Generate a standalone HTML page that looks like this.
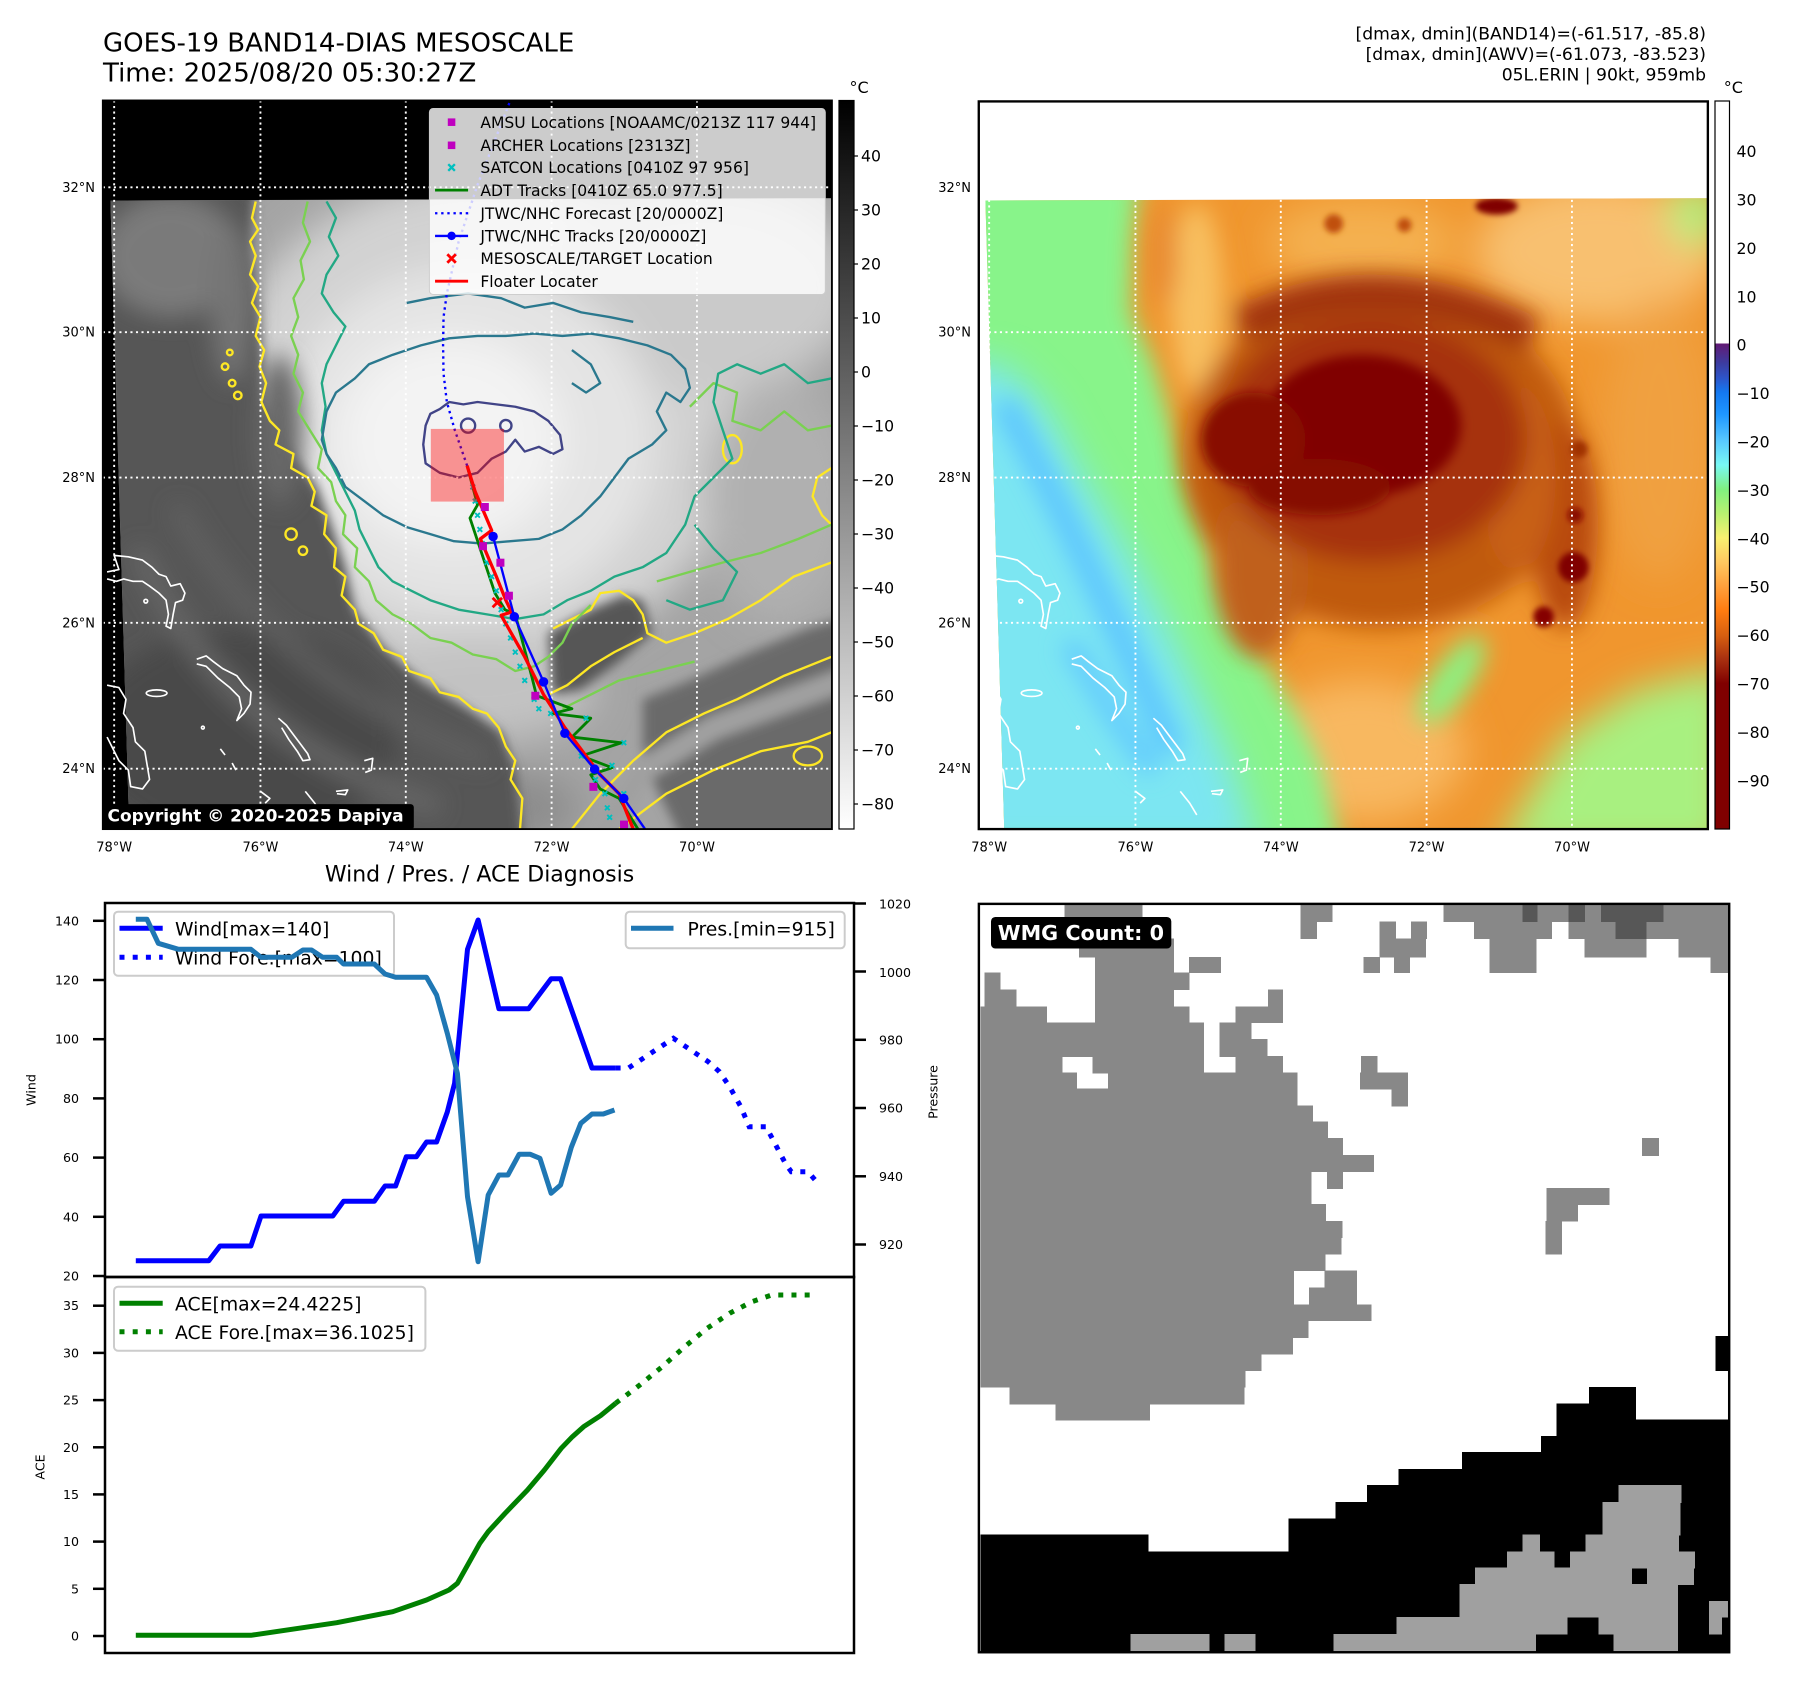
<!DOCTYPE html>
<html><head><meta charset="utf-8">
<style>
html,body{margin:0;padding:0;background:#fff;}
body{width:1797px;height:1690px;overflow:hidden;}
svg{display:block;font-family:"DejaVu Sans","Liberation Sans",sans-serif;}
</style></head><body>
<svg width="1797" height="1690" viewBox="0 0 1797 1690" xmlns="http://www.w3.org/2000/svg">
<defs>
 <clipPath id="dc" clipPathUnits="userSpaceOnUse"><polygon points="22,213 1551,208 1551,1545 62,1545"/></clipPath>
 <filter id="b6" x="-30%" y="-30%" width="160%" height="160%"><feGaussianBlur stdDeviation="6"/></filter>
 <filter id="b12" x="-30%" y="-30%" width="160%" height="160%"><feGaussianBlur stdDeviation="12"/></filter>
 <filter id="b25" x="-40%" y="-40%" width="180%" height="180%"><feGaussianBlur stdDeviation="25"/></filter>
 <filter id="b40" x="-50%" y="-50%" width="200%" height="200%"><feGaussianBlur stdDeviation="40"/></filter>
 <linearGradient id="gcb" x1="0" y1="0" x2="0" y2="1">
  <stop offset="0" stop-color="#000"/><stop offset="1" stop-color="#fff"/>
 </linearGradient>
 <linearGradient id="ccb" x1="0" y1="0" x2="0" y2="1">
  <stop offset="0" stop-color="#fff"/><stop offset="0.3333" stop-color="#fff"/>
  <stop offset="0.3334" stop-color="#621a74"/><stop offset="0.36" stop-color="#3c3ca0"/>
  <stop offset="0.38" stop-color="#2e54c8"/><stop offset="0.40" stop-color="#1478f0"/>
  <stop offset="0.43" stop-color="#1e96ff"/><stop offset="0.4667" stop-color="#58c8ff"/>
  <stop offset="0.50" stop-color="#78f8f4"/><stop offset="0.5333" stop-color="#80f080"/>
  <stop offset="0.5667" stop-color="#b8f070"/><stop offset="0.60" stop-color="#f8f070"/>
  <stop offset="0.6333" stop-color="#ffc860"/><stop offset="0.6667" stop-color="#ffa03c"/>
  <stop offset="0.70" stop-color="#ff7c10"/><stop offset="0.7333" stop-color="#d86010"/>
  <stop offset="0.7667" stop-color="#a83010"/><stop offset="0.80" stop-color="#800000"/>
  <stop offset="1" stop-color="#800000"/>
 </linearGradient>
 <g id="grid" stroke="#fff" stroke-width="4" stroke-dasharray="4.4 7.3" fill="none">
  <line x1="30" y1="1" x2="30" y2="1545"/><line x1="340" y1="1" x2="340" y2="1545"/>
  <line x1="648" y1="1" x2="648" y2="1545"/><line x1="957" y1="1" x2="957" y2="1545"/>
  <line x1="1265" y1="1" x2="1265" y2="1545"/>
  <line x1="6" y1="185" x2="1551" y2="185"/><line x1="6" y1="492" x2="1551" y2="492"/>
  <line x1="6" y1="800" x2="1551" y2="800"/><line x1="6" y1="1108" x2="1551" y2="1108"/>
  <line x1="6" y1="1417" x2="1551" y2="1417"/>
 </g>
 <g id="coast" stroke="#fff" stroke-width="3.5" fill="none" stroke-linejoin="round">
  <polyline points="15,1000 40,995 30,965 60,968 90,975 110,990 125,1005 140,1010 150,1030 170,1025 180,1045 175,1060 160,1065 155,1090 150,1120 140,1115 145,1090 140,1060 125,1045 105,1030 90,1020 70,1020 50,1015 35,1020 15,1015"/>
  <polyline points="15,1240 40,1245 55,1270 50,1300 70,1330 75,1360 95,1380 100,1410 105,1440 90,1460 65,1455 60,1420 40,1400 25,1370 15,1350"/>
  <polyline points="205,1185 225,1178 240,1190 260,1205 290,1220 305,1240 320,1255 318,1280 305,1300 290,1315 300,1290 295,1265 275,1245 250,1225 225,1200 205,1195"/>
  <ellipse cx="120" cy="1257" rx="22" ry="7"/>
  <polyline points="378,1310 395,1325 410,1345 425,1365 440,1385 445,1398 430,1400 418,1380 400,1355 385,1330"/>
  <circle cx="97" cy="1062" r="4"/><circle cx="218" cy="1330" r="3"/>
  <polyline points="255,1375 265,1388"/><polyline points="280,1405 288,1420"/>
  <polyline points="340,1465 360,1480 350,1490"/><polyline points="435,1465 455,1490 470,1515"/>
  <polyline points="500,1465 525,1462 520,1472 502,1470"/><polyline points="560,1400 578,1395 575,1420 562,1425"/>
 </g>
</defs>

<!-- Titles -->
<text x="103" y="51.5" font-size="26">GOES-19 BAND14-DIAS MESOSCALE</text>
<text x="103" y="81.5" font-size="26">Time: 2025/08/20 05:30:27Z</text>
<g font-size="17.2" text-anchor="end">
 <text x="1706" y="39.5">[dmax, dmin](BAND14)=(-61.517, -85.8)</text>
 <text x="1706" y="60">[dmax, dmin](AWV)=(-61.073, -83.523)</text>
 <text x="1706" y="80.5">05L.ERIN | 90kt, 959mb</text>
</g>
<text x="849.5" y="93" font-size="16">°C</text>
<text x="1723.7" y="93" font-size="16">°C</text>

<!-- ================= LEFT MAP ================= -->
<g transform="translate(100,100) scale(0.4719)">
 <rect x="6" y="1" width="1545" height="1544" fill="#000"/>
 <g clip-path="url(#dc)">
  <rect x="0" y="150" width="1600" height="1450" fill="#a4a4a4"/>
  <g filter="url(#b40)">
   <ellipse cx="800" cy="680" rx="560" ry="520" fill="#d2d2d2"/>
   <ellipse cx="1280" cy="400" rx="330" ry="220" fill="#cacaca"/>
   <ellipse cx="1440" cy="850" rx="160" ry="260" fill="#b0b0b0"/>
   <ellipse cx="780" cy="720" rx="400" ry="370" fill="#e4e4e4"/>
   <ellipse cx="740" cy="720" rx="240" ry="220" fill="#f3f3f3"/>
   <ellipse cx="800" cy="1250" rx="250" ry="110" fill="#c2c2c2"/>
   <ellipse cx="820" cy="1500" rx="200" ry="80" fill="#8c8c8c"/>
  </g>
  <g filter="url(#b12)">
   <polygon points="-100,150 330,150 318,320 335,440 345,560 350,640 400,740 460,820 490,900 520,990 540,1080 600,1160 680,1230 780,1290 850,1340 880,1420 900,1600 -100,1600" fill="#575757"/>
  </g>
  <g filter="url(#b25)">
   <ellipse cx="150" cy="330" rx="150" ry="130" fill="#7a7a7a"/>
   <ellipse cx="280" cy="430" rx="45" ry="170" fill="#747474"/>
   <ellipse cx="380" cy="700" rx="50" ry="160" fill="#686868"/>
   <ellipse cx="300" cy="1350" rx="330" ry="230" fill="#484848"/>
   <path d="M80,950 Q250,1350 720,1500" stroke="#686868" stroke-width="40" fill="none"/>
   <path d="M160,860 Q360,1220 820,1400" stroke="#646464" stroke-width="30" fill="none"/>
  </g>
  <g filter="url(#b12)">
   <polygon points="950,1130 1040,1080 1110,1050 1150,1060 1170,1130 1100,1190 1020,1250 960,1260" fill="#565656"/>
   <polygon points="1150,1270 1250,1230 1380,1170 1500,1120 1600,1090 1600,1600 1250,1600 1200,1500 1150,1400" fill="#6a6a6a"/>
   <path d="M1030,1600 L1150,1420 L1300,1330 L1600,1220" stroke="#a0a0a0" stroke-width="50" fill="none"/>
  </g>
  <!-- contours -->
  <g fill="none" stroke-width="5" stroke-linejoin="round">
   <polyline stroke="#fde725" points="330,215 322,250 335,275 318,300 330,330 318,370 335,395 322,430 340,460 330,500 348,530 338,565 352,600 342,640 360,680 380,700 372,730 410,750 405,780 440,800 455,830 448,860 480,880 475,920 500,950 496,990 520,1010 512,1050 540,1080 548,1110 580,1130 600,1165 640,1180 655,1210 700,1225 720,1255 760,1265 790,1290 820,1300 845,1330 860,1370 880,1400 870,1440 895,1480 890,1545"/>
   <polyline stroke="#fde725" points="960,1120 1000,1100 1040,1080 1060,1045 1100,1040 1130,1060 1150,1090 1160,1130 1200,1150 1260,1130 1330,1100 1400,1060 1470,1010 1550,980"/>
   <polyline stroke="#fde725" points="950,1260 990,1240 1040,1200 1090,1170 1150,1140"/>
   <polyline stroke="#fde725" points="1000,1545 1060,1470 1130,1400 1200,1340 1280,1300 1350,1270 1450,1220 1550,1180"/>
   <polyline stroke="#fde725" points="1100,1545 1200,1470 1300,1420 1400,1380 1500,1360 1550,1340"/>
   <polyline stroke="#fde725" points="1550,780 1520,800 1510,840 1530,880 1550,900"/>
   <ellipse stroke="#fde725" cx="1340" cy="740" rx="20" ry="30"/>
   <ellipse stroke="#fde725" cx="1500" cy="1390" rx="30" ry="20"/>
   <circle stroke="#fde725" cx="265" cy="565" r="7"/><circle stroke="#fde725" cx="280" cy="600" r="7"/>
   <circle stroke="#fde725" cx="292" cy="626" r="8"/><circle stroke="#fde725" cx="275" cy="535" r="6"/>
   <circle stroke="#fde725" cx="405" cy="920" r="12"/><circle stroke="#fde725" cx="430" cy="955" r="9"/>
   <polyline stroke="#7ad151" points="440,215 430,260 445,300 425,340 432,380 410,420 420,460 405,500 420,540 410,580 430,620 420,660 445,700 470,740 462,780 490,810 500,850 520,880 515,920 545,950 540,990 570,1020 585,1060 620,1090 660,1110 700,1140 745,1150 790,1175 840,1185 880,1210 920,1200 950,1180 980,1150 1000,1110 1040,1070"/>
   <polyline stroke="#7ad151" points="1180,1020 1250,1000 1320,980 1400,960 1480,930 1550,900"/>
   <polyline stroke="#7ad151" points="1250,650 1300,600 1350,620 1340,680 1400,700 1450,660 1500,700 1550,690"/>
   <polyline stroke="#7ad151" points="980,1290 1040,1260 1100,1230 1180,1210 1260,1190"/>
   <polyline stroke="#22a884" points="480,215 500,250 485,290 505,330 480,370 470,410 495,450 520,480 500,520 480,560 470,600 478,650 470,700 480,750 500,790 520,830 540,870 550,910 570,950 590,990 620,1020 660,1040 700,1060 760,1080 820,1090 880,1100 940,1090 990,1060 1040,1040 1090,1010 1150,990 1200,960 1240,900 1260,840 1300,800 1340,760 1320,700 1300,640 1310,580 1350,560 1400,580 1450,560 1500,600 1550,590"/>
   <polyline stroke="#22a884" points="1260,900 1300,950 1350,1000 1320,1060 1250,1080 1200,1060"/>
   <polygon stroke="#2a788e" points="470,720 480,660 500,620 540,590 570,560 620,540 680,520 740,505 800,500 860,500 920,495 980,500 1040,495 1100,505 1160,520 1210,540 1240,570 1250,610 1230,640 1200,620 1180,660 1200,700 1170,730 1120,760 1090,800 1060,840 1020,880 980,910 930,930 870,935 810,940 750,935 700,920 650,905 600,880 560,850 520,820 500,780 480,750"/>
   <polyline stroke="#2a788e" points="650,430 700,420 780,410 850,420 900,440 960,430 1020,450 1080,460 1130,470"/>
   <polyline stroke="#2a788e" points="1000,530 1040,560 1060,600 1030,620 1000,600"/>
   <polygon stroke="#414487" points="690,690 700,665 720,655 740,640 770,645 800,640 840,645 880,650 920,660 950,680 975,710 980,740 960,750 930,735 900,745 880,720 860,745 830,760 800,790 760,800 720,790 690,770 685,730"/>
   <circle stroke="#414487" cx="780" cy="690" r="15"/><circle stroke="#414487" cx="860" cy="690" r="12"/>
  </g>
 </g>
 <use href="#grid"/>
 <use href="#coast"/>
 <!-- tracks -->
 <polyline points="778,775 752,700 735,640 728,580 727,520 728,460 735,410 760,300 800,180 870,0" fill="none" stroke="#0000ff" stroke-width="5" stroke-dasharray="5 8"/>
 <polyline points="778,775 800,858 784,886 837,1045 858,1080 880,1090 915,1222 925,1262 1000,1290 960,1300 1040,1310 1000,1350 1105,1362 1020,1390 1085,1415 1040,1430 1060,1460 1100,1480 1140,1545" fill="none" stroke="#008000" stroke-width="6" stroke-linejoin="round"/>
 <g stroke="#00bfbf" stroke-width="4">
  <path d="M785,815l10,10m0,-10l-10,10 M790,845l10,10m0,-10l-10,10 M795,875l10,10m0,-10l-10,10 M800,905l10,10m0,-10l-10,10 M805,935l10,10m0,-10l-10,10 M815,975l10,10m0,-10l-10,10 M825,1005l10,10m0,-10l-10,10 M835,1035l10,10m0,-10l-10,10 M845,1075l10,10m0,-10l-10,10 M855,1105l10,10m0,-10l-10,10 M865,1135l10,10m0,-10l-10,10 M875,1165l10,10m0,-10l-10,10 M885,1195l10,10m0,-10l-10,10 M895,1225l10,10m0,-10l-10,10 M915,1265l10,10m0,-10l-10,10 M925,1285l10,10m0,-10l-10,10 M950,1295l10,10m0,-10l-10,10 M1025,1305l10,10m0,-10l-10,10 M1105,1357l10,10m0,-10l-10,10 M1015,1385l10,10m0,-10l-10,10 M1080,1405l10,10m0,-10l-10,10 M1045,1435l10,10m0,-10l-10,10 M1065,1465l10,10m0,-10l-10,10 M1070,1495l10,10m0,-10l-10,10 M1105,1465l10,10m0,-10l-10,10 M1075,1515l10,10m0,-10l-10,10"/>
 </g>
 <polyline points="778,775 795,830 830,912 806,930 840,1010 860,1060 872,1085 850,1092 900,1180 940,1260 985,1330 1030,1390 1060,1430 1100,1470 1130,1545" fill="none" stroke="#ff0000" stroke-width="7" stroke-linejoin="round"/>
 <polyline points="833,925 878,1095 940,1233 985,1342 1048,1418 1110,1480 1155,1545" fill="none" stroke="#0000ff" stroke-width="5"/>
 <g fill="#0000ff"><circle cx="833" cy="925" r="10"/><circle cx="878" cy="1095" r="10"/><circle cx="940" cy="1233" r="10"/><circle cx="985" cy="1342" r="10"/><circle cx="1048" cy="1418" r="10"/><circle cx="1110" cy="1480" r="10"/></g>
 <g fill="#bf00bf"><rect x="807" y="854" width="17" height="17"/><rect x="803" y="937" width="17" height="17"/><rect x="840" y="972" width="17" height="17"/><rect x="858" y="1042" width="17" height="17"/><rect x="914" y="1254" width="17" height="17"/><rect x="1037" y="1447" width="17" height="17"/><rect x="1102" y="1527" width="17" height="17"/></g>
 <path d="M832,1055l20,20m0,-20l-20,20" stroke="#ff0000" stroke-width="6"/>
 <rect x="701" y="697" width="155" height="154" fill="#ff0000" fill-opacity="0.4"/>
 <!-- legend -->
 <rect x="698" y="18" width="839" height="394" rx="8" fill="#fff" fill-opacity="0.8" stroke="#cccccc" stroke-width="2"/>
 <rect x="737" y="39" width="16" height="16" fill="#bf00bf"/>
 <rect x="737" y="88" width="16" height="16" fill="#bf00bf"/>
 <path d="M738,136l14,14m0,-14l-14,14" stroke="#00bfbf" stroke-width="5"/>
 <line x1="710" y1="191" x2="780" y2="191" stroke="#008000" stroke-width="6"/>
 <line x1="710" y1="240" x2="780" y2="240" stroke="#0000ff" stroke-width="5" stroke-dasharray="5 8"/>
 <line x1="710" y1="288" x2="780" y2="288" stroke="#0000ff" stroke-width="5"/><circle cx="745" cy="288" r="9" fill="#0000ff"/>
 <path d="M736,327l18,18m0,-18l-18,18" stroke="#ff0000" stroke-width="6"/>
 <line x1="710" y1="384" x2="780" y2="384" stroke="#ff0000" stroke-width="6"/>
 <g font-size="33" fill="#000">
  <text x="806" y="59">AMSU Locations [NOAAMC/0213Z 117 944]</text>
  <text x="806" y="108">ARCHER Locations [2313Z]</text>
  <text x="806" y="155">SATCON Locations [0410Z 97 956]</text>
  <text x="806" y="203">ADT Tracks [0410Z 65.0 977.5]</text>
  <text x="806" y="252">JTWC/NHC Forecast [20/0000Z]</text>
  <text x="806" y="300">JTWC/NHC Tracks [20/0000Z]</text>
  <text x="806" y="348">MESOSCALE/TARGET Location</text>
  <text x="806" y="396">Floater Locater</text>
 </g>
 <rect x="6" y="1" width="1545" height="1544" fill="none" stroke="#000" stroke-width="4"/>
 <rect x="5" y="1492" width="660" height="55" rx="7" fill="#000"/>
 <text x="16" y="1529" font-size="36" font-weight="bold" fill="#fff">Copyright © 2020-2025 Dapiya</text>
</g>

<!-- left colorbar -->
<rect x="839" y="100.5" width="15" height="728.5" fill="url(#gcb)" stroke="#000" stroke-width="1.2"/>
<g font-size="15.7" fill="#000">
 <text x="861" y="161.5">40</text><text x="861" y="215.5">30</text><text x="861" y="269.5">20</text>
 <text x="861" y="323.5">10</text><text x="861" y="377.5">0</text><text x="861" y="431.5">−10</text>
 <text x="861" y="485.5">−20</text><text x="861" y="539.5">−30</text><text x="861" y="593.5">−40</text>
 <text x="861" y="647.5">−50</text><text x="861" y="701.5">−60</text><text x="861" y="755.5">−70</text>
 <text x="861" y="809.5">−80</text>
</g>
<g stroke="#000" stroke-width="1.2">
 <line x1="854" y1="156" x2="858" y2="156"/><line x1="854" y1="210" x2="858" y2="210"/><line x1="854" y1="264" x2="858" y2="264"/>
 <line x1="854" y1="318" x2="858" y2="318"/><line x1="854" y1="372" x2="858" y2="372"/><line x1="854" y1="426" x2="858" y2="426"/>
 <line x1="854" y1="480" x2="858" y2="480"/><line x1="854" y1="534" x2="858" y2="534"/><line x1="854" y1="588" x2="858" y2="588"/>
 <line x1="854" y1="642" x2="858" y2="642"/><line x1="854" y1="696" x2="858" y2="696"/><line x1="854" y1="750" x2="858" y2="750"/>
 <line x1="854" y1="804" x2="858" y2="804"/>
</g>

<!-- left map axis labels -->
<g font-size="13" text-anchor="end">
 <text x="95" y="191.8">32°N</text><text x="95" y="336.7">30°N</text><text x="95" y="482">28°N</text>
 <text x="95" y="627.4">26°N</text><text x="95" y="773.2">24°N</text>
</g>
<g font-size="13" text-anchor="middle">
 <text x="114.2" y="851.5">78°W</text><text x="260.4" y="851.5">76°W</text><text x="405.8" y="851.5">74°W</text>
 <text x="551.6" y="851.5">72°W</text><text x="697" y="851.5">70°W</text>
</g>

<!-- ================= RIGHT MAP ================= -->
<g transform="translate(975,100) scale(0.4719)">
 <rect x="8" y="3" width="1545" height="1542" fill="#fff"/>
 <g clip-path="url(#dc)">
  <rect x="0" y="150" width="1600" height="1450" fill="#f0962e"/>
  <g filter="url(#b40)">
   <ellipse cx="820" cy="300" rx="200" ry="90" fill="#f4b050"/>
   <ellipse cx="1320" cy="320" rx="260" ry="150" fill="#f8c070"/>
   <ellipse cx="1450" cy="720" rx="120" ry="300" fill="#f0a040"/>
   <ellipse cx="820" cy="1380" rx="220" ry="150" fill="#f8b860"/>
   <polygon points="1100,1600 1250,1350 1400,1250 1600,1200 1600,1600" fill="#a8f080"/>
   <ellipse cx="1530" cy="240" rx="60" ry="70" fill="#b0f080"/>
  </g>
  <g filter="url(#b25)">
   <polygon points="-100,150 350,150 335,300 330,450 380,560 420,700 450,800 490,900 510,1000 560,1100 620,1200 680,1300 730,1400 780,1600 -100,1600" fill="#88f48a"/>
  </g>
  <g filter="url(#b40)">
   <polygon points="-100,560 60,560 150,650 230,800 320,950 400,1100 470,1250 540,1400 600,1600 -100,1600" fill="#7ce6f2"/>
  </g>
  <g filter="url(#b25)">
   <path d="M60,640 C150,800 250,1000 420,1380" stroke="#5cc4ff" stroke-width="50" fill="none"/>
   <path d="M200,1150 C260,1250 320,1350 380,1420" stroke="#60c8ff" stroke-width="40" fill="none"/>
   <ellipse cx="470" cy="420" rx="55" ry="200" fill="#f8c060"/>
   <ellipse cx="400" cy="330" rx="30" ry="110" fill="#e88a30"/>
   <ellipse cx="860" cy="760" rx="420" ry="360" fill="#c05a10"/>
   <ellipse cx="600" cy="1000" rx="90" ry="180" fill="#c0601a"/>
   <ellipse cx="1250" cy="900" rx="70" ry="220" fill="#b84a10"/>
   <ellipse cx="1150" cy="800" rx="80" ry="200" fill="#c86018"/>
   <ellipse cx="1010" cy="1230" rx="40" ry="110" transform="rotate(35 1010 1230)" fill="#8ef080"/>
   <ellipse cx="840" cy="720" rx="330" ry="260" fill="#a63008"/>
   <path d="M560,480 Q850,330 1180,500" stroke="#a03008" stroke-width="80" fill="none"/>
  </g>
  <g filter="url(#b12)">
   <ellipse cx="820" cy="690" rx="210" ry="150" fill="#800000"/>
   <ellipse cx="590" cy="720" rx="110" ry="100" fill="#881000"/>
   <ellipse cx="730" cy="820" rx="150" ry="60" fill="#860800"/>
  </g>
  <g filter="url(#b6)">
   <circle cx="1268" cy="990" r="32" fill="#800000"/>
   <circle cx="1205" cy="1095" r="22" fill="#850000"/>
   <circle cx="1272" cy="880" r="16" fill="#8a0800"/>
   <circle cx="1280" cy="740" r="18" fill="#a03000"/>
   <ellipse cx="1105" cy="225" rx="45" ry="18" fill="#800000"/>
   <circle cx="760" cy="262" r="20" fill="#c05010"/>
   <circle cx="910" cy="265" r="15" fill="#c05010"/>
  </g>
 </g>
 <use href="#grid"/>
 <use href="#coast"/>
 <rect x="8" y="3" width="1545" height="1542" fill="none" stroke="#000" stroke-width="5"/>
</g>

<!-- right colorbar -->
<rect x="1715" y="101" width="14.5" height="728" fill="url(#ccb)" stroke="#000" stroke-width="1.2"/>
<g font-size="15.7" fill="#000">
 <text x="1736.5" y="157.1">40</text><text x="1736.5" y="205.5">30</text><text x="1736.5" y="253.9">20</text>
 <text x="1736.5" y="302.3">10</text><text x="1736.5" y="350.7">0</text><text x="1736.5" y="399.1">−10</text>
 <text x="1736.5" y="447.5">−20</text><text x="1736.5" y="495.9">−30</text><text x="1736.5" y="544.3">−40</text>
 <text x="1736.5" y="592.7">−50</text><text x="1736.5" y="641.1">−60</text><text x="1736.5" y="689.5">−70</text>
 <text x="1736.5" y="737.9">−80</text><text x="1736.5" y="786.3">−90</text>
</g>
<g font-size="13" text-anchor="end">
 <text x="971" y="191.8">32°N</text><text x="971" y="336.7">30°N</text><text x="971" y="482">28°N</text>
 <text x="971" y="627.4">26°N</text><text x="971" y="773.2">24°N</text>
</g>
<g font-size="13" text-anchor="middle">
 <text x="989.2" y="851.5">78°W</text><text x="1135.4" y="851.5">76°W</text><text x="1280.8" y="851.5">74°W</text>
 <text x="1426.6" y="851.5">72°W</text><text x="1572" y="851.5">70°W</text>
</g>

<!-- ================= WIND / PRES / ACE ================= -->
<text x="479.5" y="881.5" font-size="22" text-anchor="middle">Wind / Pres. / ACE Diagnosis</text>
<polyline fill="none" stroke="#0000ff" stroke-width="5" stroke-linejoin="round" points="135.8,1260.7 208.8,1260.7 220,1246 250.9,1246 261,1216 332.8,1216 343.5,1201.3 374.3,1201.3 385,1186 395.6,1186 406.3,1156.7 416.4,1156.7 426.5,1142 436.6,1142 447.3,1112 454.6,1083.3 467.5,949.3 478.1,920 498.9,1008.7 528.6,1008.7 551.1,978.7 560.6,978.7 592,1068 615.6,1068"/>
<polyline fill="none" stroke="#0000ff" stroke-width="5" stroke-dasharray="5 8.2" points="615.6,1068 628.5,1068 673.4,1038.3 685.8,1046.7 708.2,1061.7 719.4,1071.7 729.6,1086.7 740.8,1106.7 749.2,1126.7 766.1,1126.7 785.7,1164 791.3,1171.7 808.1,1171.7 816.5,1181.7"/>
<rect x="114" y="911.7" width="280" height="64" rx="4" fill="#fff" fill-opacity="0.8" stroke="#cccccc" stroke-width="2"/>
<line x1="119.5" y1="928.3" x2="162.7" y2="928.3" stroke="#0000ff" stroke-width="5"/>
<line x1="119.5" y1="957.3" x2="162.7" y2="957.3" stroke="#0000ff" stroke-width="5" stroke-dasharray="5 8.2"/>
<text x="175" y="935.5" font-size="18.8">Wind[max=140]</text>
<text x="175" y="964.5" font-size="18.8">Wind Fore.[max=100]</text>
<polyline fill="none" stroke="#1f77b4" stroke-width="5" stroke-linejoin="round" points="135.8,919.3 147,919.3 158.3,943.3 178.5,949.3 250.9,949.3 261,957.3 291.8,957.3 303,950 311.5,950 322.7,957.3 336.7,957.3 343.5,964 374.3,964 385,974 395.6,977.3 426.5,977.3 436.6,995 447.3,1033.3 457.4,1073.3 467.5,1196.7 478.1,1261.7 488.2,1195 498.9,1175 507.9,1175 519.1,1154.3 530.3,1154.3 539.9,1158.3 551.1,1193.3 560.6,1185 571.3,1147.3 580.8,1123.3 592,1114 603.3,1114 614.5,1110"/>
<rect x="625.7" y="911.7" width="219" height="36.6" rx="4" fill="#fff" fill-opacity="0.8" stroke="#cccccc" stroke-width="2"/>
<line x1="631" y1="928.3" x2="673.5" y2="928.3" stroke="#1f77b4" stroke-width="5"/>
<text x="687.5" y="935.5" font-size="18.8">Pres.[min=915]</text>
<polyline fill="none" stroke="#008000" stroke-width="5" stroke-linejoin="round" points="135.8,1635.3 250.9,1635.3 336.7,1622.7 392.8,1611.7 426.5,1600 449,1590 457.4,1583.3 468.6,1563.3 479.8,1543.3 488.2,1531.7 505.1,1513.3 527.5,1490 544.4,1470 561.2,1448.3 572.4,1436.7 583.6,1426.7 600.5,1415.7 615.6,1403.3"/>
<polyline fill="none" stroke="#008000" stroke-width="5" stroke-dasharray="5 8.2" points="615.6,1403.3 639.8,1385 662.2,1366.7 684.7,1346.7 707.1,1328.3 729.6,1313.3 752,1301.7 771.7,1295 816.5,1295"/>
<rect x="114" y="1286.7" width="311.4" height="64" rx="4" fill="#fff" fill-opacity="0.8" stroke="#cccccc" stroke-width="2"/>
<line x1="119.5" y1="1303.3" x2="162.7" y2="1303.3" stroke="#008000" stroke-width="5"/>
<line x1="119.5" y1="1331.7" x2="162.7" y2="1331.7" stroke="#008000" stroke-width="5" stroke-dasharray="5 8.2"/>
<text x="175" y="1310.5" font-size="18.8">ACE[max=24.4225]</text>
<text x="175" y="1338.9" font-size="18.8">ACE Fore.[max=36.1025]</text>
<rect x="105" y="903" width="749" height="374" fill="none" stroke="#000" stroke-width="2.5"/>
<rect x="105" y="1277" width="749" height="376" fill="none" stroke="#000" stroke-width="2.5"/>
<g stroke="#000" stroke-width="2.5">
 <line x1="93" y1="920.8" x2="105" y2="920.8"/><line x1="93" y1="980" x2="105" y2="980"/><line x1="93" y1="1039.2" x2="105" y2="1039.2"/>
 <line x1="93" y1="1098.4" x2="105" y2="1098.4"/><line x1="93" y1="1157.6" x2="105" y2="1157.6"/><line x1="93" y1="1216.8" x2="105" y2="1216.8"/>
 <line x1="93" y1="1276" x2="105" y2="1276"/>
 <line x1="854" y1="903.5" x2="866" y2="903.5"/><line x1="854" y1="971.5" x2="866" y2="971.5"/><line x1="854" y1="1039.8" x2="866" y2="1039.8"/>
 <line x1="854" y1="1108" x2="866" y2="1108"/><line x1="854" y1="1176.3" x2="866" y2="1176.3"/><line x1="854" y1="1244.5" x2="866" y2="1244.5"/>
 <line x1="93" y1="1636" x2="105" y2="1636"/><line x1="93" y1="1588.8" x2="105" y2="1588.8"/><line x1="93" y1="1541.6" x2="105" y2="1541.6"/>
 <line x1="93" y1="1494.4" x2="105" y2="1494.4"/><line x1="93" y1="1447.3" x2="105" y2="1447.3"/><line x1="93" y1="1400.1" x2="105" y2="1400.1"/>
 <line x1="93" y1="1352.9" x2="105" y2="1352.9"/><line x1="93" y1="1305.7" x2="105" y2="1305.7"/>
</g>
<g font-size="12.6" text-anchor="end">
 <text x="79" y="925.3">140</text><text x="79" y="984.5">120</text><text x="79" y="1043.7">100</text>
 <text x="79" y="1102.9">80</text><text x="79" y="1162.1">60</text><text x="79" y="1221.3">40</text>
 <text x="79" y="1280.5">20</text>
 <text x="79" y="1640.5">0</text><text x="79" y="1593.3">5</text><text x="79" y="1546.1">10</text>
 <text x="79" y="1498.9">15</text><text x="79" y="1451.8">20</text><text x="79" y="1404.6">25</text>
 <text x="79" y="1357.4">30</text><text x="79" y="1310.2">35</text>
</g>
<g font-size="12.6">
 <text x="879" y="908.5">1020</text><text x="879" y="976.8">1000</text><text x="879" y="1044.3">980</text>
 <text x="879" y="1112.5">960</text><text x="879" y="1180.8">940</text><text x="879" y="1249">920</text>
</g>
<text font-size="12.6" text-anchor="middle" transform="translate(35.5,1090) rotate(-90)">Wind</text>
<text font-size="12.6" text-anchor="middle" transform="translate(44.5,1467) rotate(-90)">ACE</text>
<text font-size="12.6" text-anchor="middle" transform="translate(937.5,1092) rotate(-90)">Pressure</text>

<!-- ================= WMG PANEL ================= -->
<g transform="translate(975,900) scale(0.4847)">
 <rect x="8" y="8" width="1548" height="1544" fill="#fff"/>
 <g fill="#888888" stroke="#888888" stroke-width="1.5" shape-rendering="crispEdges">
  <rect x="185" y="10" width="160" height="35"/><rect x="672" y="10" width="65" height="35"/><rect x="967" y="10" width="163" height="35"/><rect x="1160" y="10" width="65" height="35"/><rect x="1258" y="10" width="34" height="35"/><rect x="1420" y="10" width="133" height="35"/>
  <rect x="185" y="45" width="160" height="35"/><rect x="672" y="45" width="33" height="35"/><rect x="835" y="45" width="33" height="35"/><rect x="900" y="45" width="32" height="35"/><rect x="1030" y="45" width="160" height="35"/><rect x="1225" y="45" width="97" height="35"/><rect x="1385" y="45" width="168" height="35"/>
  <rect x="215" y="80" width="195" height="38"/><rect x="835" y="80" width="95" height="38"/><rect x="1062" y="80" width="96" height="38"/><rect x="1258" y="80" width="127" height="38"/><rect x="1452" y="80" width="101" height="38"/>
  <rect x="248" y="118" width="162" height="32"/><rect x="442" y="118" width="65" height="32"/><rect x="802" y="118" width="33" height="32"/><rect x="865" y="118" width="32" height="32"/><rect x="1062" y="118" width="96" height="32"/><rect x="1518" y="118" width="35" height="32"/>
  <rect x="20" y="150" width="32" height="35"/><rect x="248" y="150" width="194" height="35"/>
  <rect x="20" y="185" width="65" height="35"/><rect x="248" y="185" width="162" height="35"/><rect x="605" y="185" width="30" height="35"/>
  <rect x="12" y="220" width="136" height="33"/><rect x="248" y="220" width="194" height="33"/><rect x="538" y="220" width="97" height="33"/>
  <rect x="12" y="253" width="460" height="35"/><rect x="505" y="253" width="65" height="35"/>
  <rect x="12" y="288" width="460" height="35"/><rect x="505" y="288" width="98" height="35"/>
  <rect x="12" y="323" width="168" height="34"/><rect x="243" y="323" width="229" height="34"/><rect x="538" y="323" width="97" height="34"/><rect x="797" y="323" width="33" height="34"/>
  <rect x="12" y="357" width="198" height="33"/><rect x="275" y="357" width="390" height="33"/><rect x="795" y="357" width="98" height="33"/>
  <rect x="12" y="390" width="653" height="35"/><rect x="860" y="390" width="33" height="35"/>
  <rect x="12" y="425" width="685" height="33"/>
  <rect x="12" y="458" width="716" height="34"/>
  <rect x="12" y="492" width="746" height="35"/><rect x="1377" y="492" width="33" height="35"/>
  <rect x="12" y="527" width="810" height="33"/>
  <rect x="12" y="560" width="681" height="35"/><rect x="727" y="560" width="31" height="35"/>
  <rect x="12" y="595" width="681" height="33"/><rect x="1180" y="595" width="128" height="33"/>
  <rect x="12" y="628" width="711" height="35"/><rect x="1180" y="628" width="63" height="35"/>
  <rect x="12" y="663" width="745" height="34"/><rect x="1178" y="663" width="32" height="34"/>
  <rect x="12" y="697" width="743" height="34"/><rect x="1178" y="697" width="32" height="34"/>
  <rect x="12" y="731" width="710" height="34"/>
  <rect x="12" y="765" width="645" height="35"/><rect x="722" y="765" width="65" height="35"/>
  <rect x="12" y="800" width="645" height="35"/><rect x="690" y="800" width="97" height="35"/>
  <rect x="12" y="835" width="805" height="33"/>
  <rect x="12" y="868" width="675" height="35"/>
  <rect x="12" y="903" width="643" height="34"/>
  <rect x="12" y="937" width="578" height="34"/>
  <rect x="12" y="971" width="545" height="34"/>
  <rect x="72" y="1005" width="483" height="35"/>
  <rect x="167" y="1040" width="193" height="33"/>
 </g>
 <g fill="#575757" stroke="#575757" stroke-width="1.5" shape-rendering="crispEdges">
  <rect x="1130" y="10" width="30" height="35"/><rect x="1225" y="10" width="33" height="35"/><rect x="1292" y="10" width="128" height="35"/>
  <rect x="1322" y="45" width="63" height="35"/>
 </g>
 <g fill="#000" stroke="#000" stroke-width="1.5" shape-rendering="crispEdges">
  <rect x="1529" y="900" width="27" height="71"/>
  <rect x="1268" y="1005" width="95" height="35"/>
  <rect x="1200" y="1040" width="163" height="33"/>
  <rect x="1200" y="1073" width="356" height="34"/>
  <rect x="1168" y="1107" width="388" height="33"/>
  <rect x="1005" y="1140" width="551" height="35"/>
  <rect x="875" y="1175" width="681" height="33"/>
  <rect x="810" y="1208" width="746" height="35"/>
  <rect x="745" y="1243" width="811" height="34"/>
  <rect x="648" y="1277" width="908" height="33"/>
  <rect x="12" y="1310" width="345" height="35"/><rect x="648" y="1310" width="908" height="35"/>
  <rect x="12" y="1345" width="1544" height="207"/>
 </g>
 <g fill="#a0a0a0" stroke="#a0a0a0" stroke-width="1.5" shape-rendering="crispEdges">
  <rect x="1328" y="1208" width="129" height="35"/>
  <rect x="1295" y="1243" width="160" height="34"/>
  <rect x="1295" y="1277" width="160" height="33"/>
  <rect x="1130" y="1310" width="35" height="35"/><rect x="1260" y="1310" width="192" height="35"/>
  <rect x="1098" y="1345" width="97" height="33"/><rect x="1228" y="1345" width="257" height="33"/>
  <rect x="1032" y="1378" width="323" height="34"/><rect x="1387" y="1378" width="96" height="34"/>
  <rect x="1000" y="1412" width="450" height="35"/>
  <rect x="1000" y="1447" width="450" height="33"/><rect x="1515" y="1447" width="38" height="33"/>
  <rect x="870" y="1480" width="352" height="35"/><rect x="1287" y="1480" width="163" height="35"/><rect x="1515" y="1480" width="25" height="35"/>
  <rect x="322" y="1515" width="161" height="37"/><rect x="515" y="1515" width="63" height="37"/><rect x="740" y="1515" width="417" height="37"/><rect x="1318" y="1515" width="132" height="37"/>
 </g>
 <rect x="33" y="35" width="372" height="65" rx="9" fill="#000"/>
 <text x="47" y="83" font-size="42.7" font-weight="bold" fill="#fff">WMG Count: 0</text>
 <rect x="8" y="8" width="1548" height="1544" fill="none" stroke="#000" stroke-width="5"/>
</g>
</svg>
</body></html>
